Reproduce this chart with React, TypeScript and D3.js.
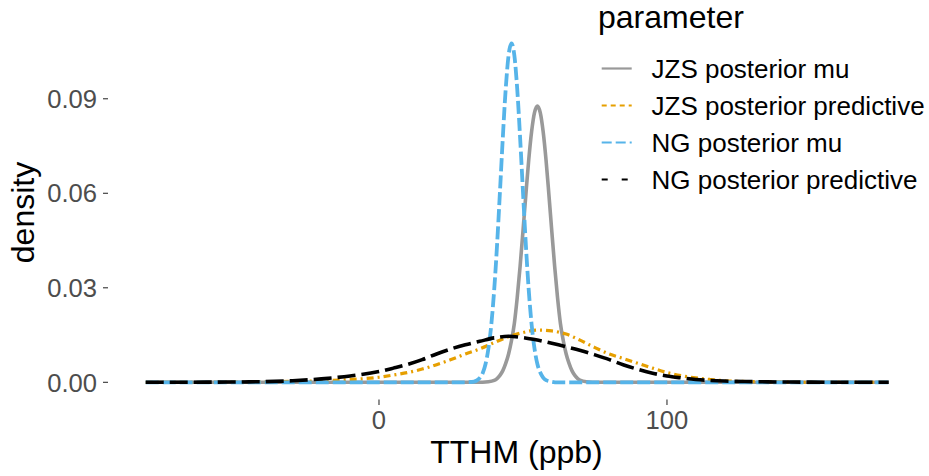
import React from "react";
import * as d3 from "d3";

const W = 929;
const H = 476;

// Tick values
const xTicks = [0, 100];
const yTicks = [0, 0.03, 0.06, 0.09];

// Series names (legend order)
const seriesNames = [
  "JZS posterior mu",
  "JZS posterior predictive",
  "NG posterior mu",
  "NG posterior predictive",
];

// JZS posterior mu
const jzsMuX = [-81, 34, 38, 40, 41, 42, 43, 44, 45, 46, 47, 48, 49, 50, 51, 52, 53, 54, 55, 56, 57, 58, 59, 60, 61, 62, 63, 64, 65, 66, 67, 68, 69, 70, 72, 76, 177];
const jzsMuY = [0, 0, 0.0002, 0.0006, 0.0012, 0.0022, 0.0037, 0.006, 0.009, 0.0132, 0.0187, 0.0269, 0.0368, 0.048, 0.0596, 0.0706, 0.0796, 0.0856, 0.0877, 0.0856, 0.0796, 0.0706, 0.0596, 0.048, 0.0368, 0.0269, 0.0187, 0.0132, 0.009, 0.006, 0.0037, 0.0022, 0.0012, 0.0006, 0.0002, 0, 0];

// NG posterior mu
const ngMuX = [-81, 30, 32, 33, 34, 35, 36, 37, 38, 39, 40, 41, 42, 43, 44, 45, 46, 47, 48, 49, 50, 51, 52, 53, 54, 55, 56, 57, 58, 60, 62, 177];
const ngMuY = [0, 0, 0.0001, 0.0002, 0.0006, 0.0014, 0.0029, 0.0058, 0.0107, 0.0183, 0.0293, 0.0436, 0.0604, 0.0777, 0.0931, 0.1038, 0.1076, 0.1038, 0.0931, 0.0777, 0.0604, 0.0436, 0.0293, 0.0183, 0.0107, 0.0058, 0.0031, 0.0015, 0.0007, 0.0002, 0, 0];

// Predictive grids
const predX = [-81, -70, -60, -50, -40, -30, -20, -10, 0, 5, 10, 15, 20, 25, 30, 35, 40, 45, 50, 55, 60, 65, 70, 75, 80, 85, 90, 95, 100, 105, 110, 115, 120, 130, 140, 150, 160, 177];
const jzsPredY = [0, 0, 0, 0.00005, 0.0001, 0.0003, 0.0005, 0.0009, 0.0016, 0.0023, 0.0031, 0.0042, 0.0056, 0.0072, 0.009, 0.0106, 0.0126, 0.0145, 0.0158, 0.0166, 0.0163, 0.0153, 0.0133, 0.011, 0.009, 0.0075, 0.006, 0.0045, 0.0031, 0.0021, 0.0014, 0.0009, 0.0005, 0.0002, 0.0001, 0, 0, 0];
const ngPredY = [0, 0, 0.00005, 0.0001, 0.0002, 0.0005, 0.0011, 0.002, 0.0034, 0.0045, 0.0057, 0.0072, 0.009, 0.0106, 0.0119, 0.013, 0.0141, 0.0146, 0.0142, 0.0134, 0.0124, 0.0113, 0.0101, 0.0087, 0.0072, 0.0055, 0.0041, 0.0029, 0.002, 0.0014, 0.0009, 0.0006, 0.0004, 0.0002, 0.0001, 0.00005, 0, 0];

const colors = ["#999999", "#E69F00", "#56B4E9", "#000000"];
const plotDash = ["none", "7 4 2 4", "13 4", "18 6"];
const plotWidth = [3.6, 3.2, 3.8, 3.6];
const legendDash = ["none", "5 4", "10 4", "6 14"];
const legendWidth = [2.2, 1.8, 1.8, 1.8];

const FONT = "'Liberation Sans', Arial, Helvetica, sans-serif";

export default function App() {
  const x = d3.scaleLinear().domain([-94.1, 189.6]).range([108, 925]);
  const y = d3.scaleLinear().domain([-0.0053, 0.1131]).range([399, 26]);

  const line = d3
    .line<[number, number]>()
    .x((d) => x(d[0]))
    .y((d) => y(d[1]))
    .curve(d3.curveMonotoneX);

  const series: [number, number][][] = [
    jzsMuX.map((v, i) => [v, jzsMuY[i]] as [number, number]),
    predX.map((v, i) => [v, jzsPredY[i]] as [number, number]),
    ngMuX.map((v, i) => [v, ngMuY[i]] as [number, number]),
    predX.map((v, i) => [v, ngPredY[i]] as [number, number]),
  ];

  const fmt = d3.format(".2f");
  const legendY = [68.5, 105.5, 142.5, 179.5];

  return (
    <svg
      width={W}
      height={H}
      style={{ position: "absolute", left: 0, top: 0, background: "#fff" }}
      fontFamily={FONT}
    >
      <rect x={0} y={0} width={W} height={H} fill="#ffffff" />
      {/* y axis ticks */}
      {yTicks.map((t) => (
        <g key={"y" + t}>
          <line x1={103} x2={108} y1={y(t)} y2={y(t)} stroke="#333333" strokeWidth={1.1} />
          <text x={97} y={y(t)} dy="0.36em" textAnchor="end" fontSize={25.6} fill="#4D4D4D">
            {fmt(t)}
          </text>
        </g>
      ))}
      {/* x axis ticks */}
      {xTicks.map((t) => (
        <g key={"x" + t}>
          <line x1={x(t)} x2={x(t)} y1={399.5} y2={405} stroke="#333333" strokeWidth={1.1} />
          <text x={x(t)} y={429} textAnchor="middle" fontSize={25.6} fill="#4D4D4D">
            {t}
          </text>
        </g>
      ))}
      {/* axis titles */}
      <text x={516.5} y={463} textAnchor="middle" fontSize={32} fill="#000">
        TTHM (ppb)
      </text>
      <text
        transform={`translate(33.5, 212.5) rotate(-90)`}
        textAnchor="middle"
        fontSize={32}
        fill="#000"
      >
        density
      </text>
      {/* lines */}
      {series.map((s, i) => (
        <path
          key={"s" + i}
          d={line(s) || ""}
          fill="none"
          stroke={colors[i]}
          strokeWidth={plotWidth[i]}
          strokeDasharray={plotDash[i]}
          strokeLinejoin="round"
          strokeLinecap="butt"
        />
      ))}
      {/* legend */}
      <text x={598} y={28} fontSize={32} fill="#000">
        parameter
      </text>
      {seriesNames.map((n, i) => (
        <g key={"l" + i}>
          <line
            x1={601.7}
            x2={631.7}
            y1={legendY[i]}
            y2={legendY[i]}
            stroke={colors[i]}
            strokeWidth={legendWidth[i]}
            strokeDasharray={legendDash[i]}
          />
          <text x={651.5} y={legendY[i]} dy="0.36em" fontSize={26} fill="#000">
            {n}
          </text>
        </g>
      ))}
    </svg>
  );
}
